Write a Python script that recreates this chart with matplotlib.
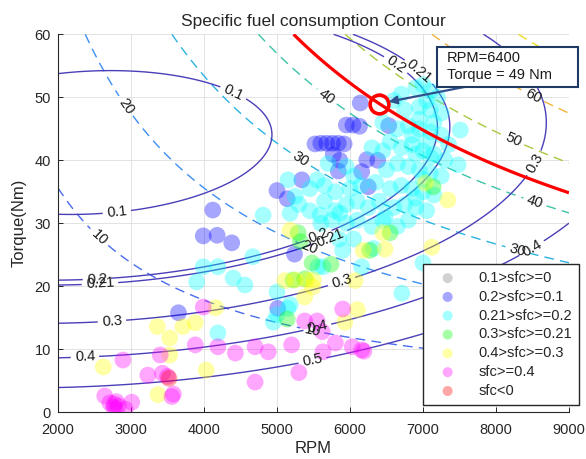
import numpy as np
import matplotlib
matplotlib.use('Agg')
import matplotlib.pyplot as plt
from matplotlib.patches import Rectangle

plt.rcParams['font.family'] = ['Liberation Sans', 'DejaVu Sans']
plt.rcParams['lines.dashed_pattern'] = [7, 4.5]

# ---------------- data ----------------
title = "Specific fuel consumption Contour"
x_label = "RPM"
y_label = "Torque(Nm)"
x_ticks = [2000, 3000, 4000, 5000, 6000, 7000, 8000, 9000]
y_ticks = [0, 10, 20, 30, 40, 50, 60]

# points (rpm, torque, level)
fit_rpm = [2000, 2500, 3030, 3670, 4040, 4490, 4770, 4880, 4790, 4600, 4180, 3500, 3000, 2500, 2000,
           2000, 3000, 3950, 5270, 6140, 6590, 6960, 7160, 7050, 6820, 5860,
           2000, 3000, 3950, 5270, 6140, 6600, 7000, 7325, 7200, 7000, 6000,
           2000, 3000, 4000, 5270, 6180, 6730, 7820, 8060, 8700, 8230, 7880,
           2000, 2620, 4000, 5310, 6000, 6920, 8700, 8970,
           2000, 3950, 5220, 6000, 6920]
fit_tq = [31.6, 31.7, 32.1, 33.7, 35.0, 35.8, 39.0, 43.7, 46.9, 48.8, 51.4, 53.6, 54.2, 54.3, 54.0,
          21.0, 21.6, 22.9, 26.1, 30.0, 34.8, 39.0, 43.7, 48.5, 52.7, 60.2,
          20.3, 21.0, 22.2, 25.4, 28.6, 33.8, 38.5, 43.2, 48.0, 52.7, 60.2,
          14.2, 14.6, 16.1, 18.7, 21.5, 24.2, 30.5, 33.2, 44.3, 57.4, 60.2,
          8.7, 8.8, 10.3, 12.8, 14.8, 17.9, 27.9, 29.4,
          3.9, 5.5, 7.5, 10.4, 12.0]
fit_lvl = [0.1] * 15 + [0.2] * 11 + [0.21] * 11 + [0.3] * 11 + [0.4] * 8 + [0.5] * 5

sfc_levels = [0.1, 0.2, 0.21, 0.3, 0.4, 0.5]
power_levels = [10, 20, 30, 40, 50, 60, 70]          # hp
power_colors = ['#4a6cf0', '#3d8ff2', '#2ab3e0', '#3cc4a8', '#a8c840', '#f0b43c', '#eedc22']

sfc_label_pos = {
    0.1: [(4356, 49.6), (2808, 31.6)],
    0.2: [(6575, 54.3), (2534, 21.0), (5589, 27.4)],
    0.21: [(6863, 53.0), (2575, 20.2), (5726, 27.9)],
    0.3: [(2740, 14.2), (5890, 20.5), (8534, 39.5)],
    0.4: [(2370, 8.6), (5562, 13.0), (8507, 25.7)],
    0.5: [(5493, 7.8)],
}
power_label_pos = {
    10: [(2548, 27.6), (5479, 12.8)],
    20: [(2890, 48.3), (5452, 26.2)],
    30: [(5315, 40.0), (8288, 25.7)],
    40: [(5685, 50.1), (8534, 33.4)],
    50: [(8233, 43.2)],
    60: [(8507, 50.1)],
    70: [],
}

# operating point
op_rpm = 6400
op_tq = 49

# scatter classes
gray_rpm = []
gray_tq = []

blue_rpm = [6140, 5950, 6040, 6130, 6530, 5520, 5600, 5680, 5760, 5840, 5920, 5860, 5840, 6160, 6230,
            6380, 6250, 5340, 5000, 5140, 4120, 3990, 4180, 4380, 5240, 3650, 5010, 5770]
blue_tq = [49.1, 45.6, 45.6, 45.4, 45.5, 42.6, 42.7, 42.7, 42.7, 42.7, 42.6, 40.0, 38.3, 38.2, 40.1,
           40.0, 35.8, 36.9, 35.2, 33.9, 32.1, 28.0, 28.1, 26.9, 25.1, 15.8, 16.5, 40.9]

cyan_rpm = [3990, 3900, 4190, 4400, 4560, 4670, 4810, 5180, 5250, 4190, 5000, 4950, 5180, 5550, 5150,
            5000, 7000, 7510, 7480, 6480, 6320, 6710, 5590, 5860, 5900, 5560, 5630, 6160, 5150,
            6900, 7000, 7100, 7200, 6700, 6600, 6750, 6950, 7100, 7250, 7050,
            6450, 6650, 6800, 6950, 7100, 7250, 7350, 6950, 7150,
            6300, 6450, 6550, 6700, 6850, 7000, 7150, 7300, 7050, 6850, 6900,
            5700, 5950, 6050, 6500, 6650, 6800, 6950, 7100, 7250, 7100,
            5450, 5650, 5800, 6000, 6150, 6350, 6550, 6700, 6850, 7000, 7150, 7000,
            5300, 5450, 5650, 5800, 5950, 6100, 6250, 6400, 6600, 6750, 6900, 7050, 6900,
            5600, 5750, 5950, 6100, 6300, 6450, 6650, 6800,
            5850, 6050]
cyan_tq = [23.1, 20.7, 23.1, 21.3, 20.2, 24.7, 31.3, 31.6, 34.3, 12.6, 19.1, 14.3, 17.1, 36.9, 36.9,
           15.5, 23.7, 44.8, 39.3, 31.0, 26.0, 18.9, 31.3, 31.6, 25.7, 23.1, 23.1, 23.1, 16.5,
           51.5, 52.0, 51.0, 50.0, 50.5, 49.5, 48.0, 48.5, 48.0, 47.5, 49.5,
           46.0, 45.0, 45.5, 45.0, 44.5, 44.0, 42.5, 46.5, 46.0,
           42.0, 41.5, 43.0, 42.0, 42.5, 41.5, 41.0, 40.0, 43.0, 44.0, 41.0,
           39.5, 39.0, 37.5, 38.5, 39.5, 39.0, 38.5, 38.0, 37.5, 40.5,
           35.5, 36.0, 35.0, 35.5, 36.0, 36.5, 35.5, 36.0, 35.5, 35.0, 34.5, 37.0,
           33.0, 32.0, 33.5, 32.0, 33.0, 33.5, 32.5, 33.5, 32.5, 33.0, 32.5, 32.0, 34.0,
           30.0, 30.5, 30.0, 30.5, 29.5, 30.5, 29.5, 30.5,
           27.5, 27.5]

green_rpm = [5220, 5140, 5290, 5380, 6550, 6270, 5740, 5320, 5480, 7140]
green_tq = [21.0, 14.8, 28.5, 21.2, 28.5, 25.7, 23.5, 27.1, 23.7, 35.8]

yellow_rpm = [3360, 3530, 3710, 3880, 3530, 2620, 3370, 4030, 4160, 5110, 5180, 5250, 6450, 6180, 6480,
              5410, 5500, 6070, 6100, 5930, 7340, 7120, 7030, 5380, 5490]
yellow_tq = [13.6, 11.8, 13.6, 14.2, 9.1, 7.2, 2.8, 6.7, 16.6, 20.9, 28.9, 21.0, 28.5, 25.7, 25.9,
             21.0, 21.0, 20.9, 16.3, 14.3, 33.7, 26.2, 36.4, 18.3, 19.9]

mag_rpm = [3990, 3880, 3400, 2890, 3230, 3430, 3580, 2640, 2710, 2770, 2800, 2830, 2760, 2790, 3010,
           2920, 4190, 4430, 4700, 4880, 4700, 5200, 5300, 5380, 5550, 5620, 5800, 5630, 5900, 6030,
           6160, 6190, 3500, 3560]
mag_tq = [16.7, 10.7, 9.1, 8.3, 5.9, 6.2, 2.9, 2.6, 1.5, 1.3, 1.7, 1.0, 0.8, 0.6, 1.6,
          0.5, 10.4, 9.4, 10.4, 9.6, 4.8, 10.7, 6.3, 14.5, 14.5, 12.8, 11.0, 9.6, 16.4, 10.4,
          9.9, 9.7, 5.7, 2.5]

red_rpm = [3520]
red_tq = [5.4]

classes = [
    ('0.1>sfc>=0', gray_rpm, gray_tq, '#808080'),
    ('0.2>sfc>=0.1', blue_rpm, blue_tq, '#0000ff'),
    ('0.21>sfc>=0.2', cyan_rpm, cyan_tq, '#00ffff'),
    ('0.3>sfc>=0.21', green_rpm, green_tq, '#00ff00'),
    ('0.4>sfc>=0.3', yellow_rpm, yellow_tq, '#ffff00'),
    ('sfc>=0.4', mag_rpm, mag_tq, '#ff00ff'),
    ('sfc<0', red_rpm, red_tq, '#ff0000'),
]

# ---------------- surfaces ----------------
X = np.array(fit_rpm) / 1000.0
Y = np.array(fit_tq) / 10.0
A = np.column_stack([np.ones_like(X), X, Y, X * X, X * Y, Y * Y])
coef, *_ = np.linalg.lstsq(A, np.array(fit_lvl), rcond=None)

rg = np.linspace(2000, 9000, 500)
tg = np.linspace(0, 60, 500)
RR, TT = np.meshgrid(rg, tg)
xx, yy = RR / 1000.0, TT / 10.0
SFC = coef[0] + coef[1] * xx + coef[2] * yy + coef[3] * xx * xx + coef[4] * xx * yy + coef[5] * yy * yy
PW = RR * TT / 7121.0  # hp

# ---------------- figure ----------------
W, H = 586, 459
fig = plt.figure(figsize=(W / 100, H / 100), dpi=100)
ax = fig.add_axes([58 / W, 1 - 412.3 / H, 511 / W, 378 / H])

txt_color = '#262626'
ax.set_xlim(2000, 9000)
ax.set_ylim(0, 60)
ax.set_xticks(x_ticks)
ax.set_yticks(y_ticks)
ax.tick_params(direction='in', length=3.5, width=0.7, colors=txt_color, labelsize=10.5)
ax.tick_params(axis='x', pad=7.5)
ax.tick_params(axis='y', pad=5)
for s in ['top', 'right']:
    ax.spines[s].set_visible(False)
for s in ['left', 'bottom']:
    ax.spines[s].set_color(txt_color)
    ax.spines[s].set_linewidth(0.8)
ax.grid(True, color='#dedede', linewidth=0.6)
ax.set_axisbelow(True)

all_labels = []
for lv, col in zip(power_levels, power_colors):
    cs = ax.contour(RR, TT, PW, levels=[lv], colors=[col], linestyles='dashed',
                    linewidths=1.0, zorder=2)
    pos = power_label_pos.get(lv, [])
    if pos:
        ax.clabel(cs, manual=pos, inline=True, inline_spacing=4, fmt='%g',
                  fontsize=10.5, colors='#1a1a1a')
        all_labels += list(cs.labelTexts)

for lv in sfc_levels:
    cs = ax.contour(RR, TT, SFC, levels=[lv], colors=['#4a3fb8'], linestyles='solid',
                    linewidths=1.0, zorder=2)
    pos = sfc_label_pos.get(lv, [])
    if pos:
        ax.clabel(cs, manual=pos, inline=True, inline_spacing=4, fmt='%g',
                  fontsize=10.5, colors='#1a1a1a')
        all_labels += list(cs.labelTexts)

for t in all_labels:
    t.set_zorder(6)

handles = []
for name, xs, ys, col in classes:
    h = ax.scatter(xs, ys, s=145, c=col, alpha=0.35, edgecolors='none', zorder=3, label=name)
    handles.append(h)

# constant-power line through the operating point
red_power = op_rpm * op_tq / 7121.0
ax.contour(RR, TT, PW, levels=[red_power], colors='red', linewidths=2.3, zorder=5)
ax.plot([op_rpm], [op_tq], 'o', mfc='none', mec='red', ms=13.5, mew=2.6, zorder=7)

ax.set_title(title, fontsize=12.5, color=txt_color, pad=6)
ax.set_xlabel(x_label, fontsize=12, color=txt_color, labelpad=3)
ax.set_ylabel(y_label, fontsize=12, color=txt_color, labelpad=6)

leg = ax.legend(handles=handles, loc='lower left', bbox_to_anchor=(0.714, 0.019),
                borderaxespad=0, fontsize=10.5, frameon=True, fancybox=False,
                framealpha=1, edgecolor=txt_color, markerscale=0.6,
                borderpad=0.5, handlelength=2.4, handletextpad=0.9, labelspacing=0.33)
leg.get_frame().set_linewidth(1.0)
leg.set_zorder(10)
for t in leg.get_texts():
    t.set_color(txt_color)

# annotation box
box = Rectangle((437 / W, 1 - 87 / H), 141 / W, 40 / H, transform=fig.transFigure,
                facecolor='white', edgecolor='#1f3864', linewidth=1.5, zorder=20)
fig.add_artist(box)
fig.text(447 / W, 1 - 66.5 / H, f"RPM={op_rpm}\nTorque = {op_tq} Nm", ha='left', va='center',
         fontsize=10.5, color='#1a1a1a', linespacing=1.25, zorder=21)
ax.annotate('', xy=(op_rpm, op_tq), xytext=(467 / W, 1 - 86.5 / H), textcoords='figure fraction',
            arrowprops=dict(arrowstyle='-|>', color='#2f528f', lw=1.6, shrinkA=0, shrinkB=7,
                            mutation_scale=12), zorder=8, annotation_clip=False)

fig.savefig('out.png', dpi=100)
